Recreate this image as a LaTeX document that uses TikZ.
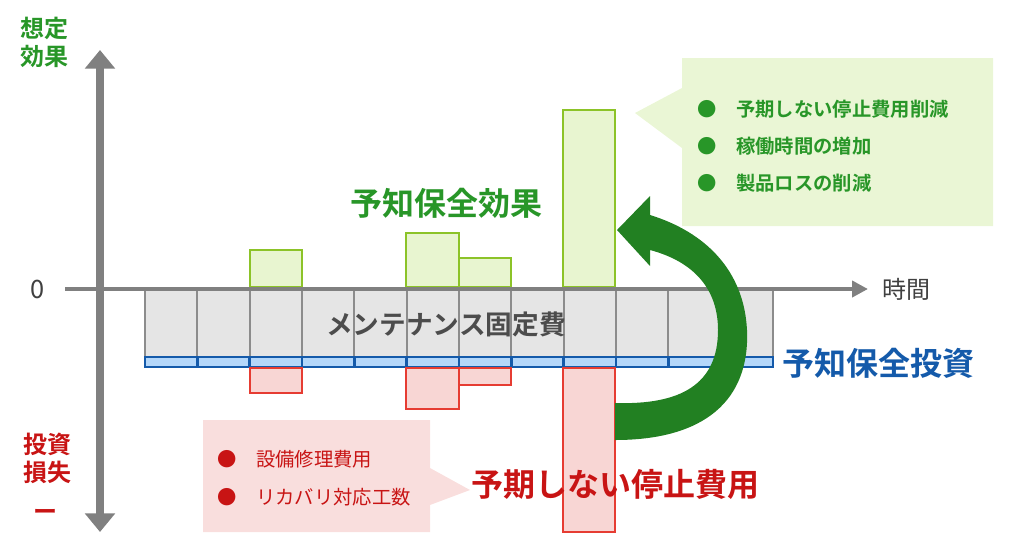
\documentclass[tikz,border=0pt]{standalone}
\usepackage{fontspec}
\newfontfamily\jp{Noto Sans CJK JP}
\newfontfamily\jpb{Noto Sans CJK JP Bold}
\usetikzlibrary{arrows.meta}
\definecolor{effgreen}{RGB}{40,150,40}
\definecolor{barline}{RGB}{140,195,40}
\definecolor{barfill}{RGB}{232,245,208}
\definecolor{lossred}{RGB}{200,20,20}
\definecolor{redline}{RGB}{230,60,50}
\definecolor{redfill}{RGB}{248,214,212}
\definecolor{invblue}{RGB}{20,90,170}
\definecolor{bluefill}{RGB}{180,215,250}
\tikzset{every picture/.style={line width=0.75pt}}
\tikzset{
  gbar/.style={draw=barline,fill=barfill,line width=2.2pt},
  rbar/.style={draw=redline,fill=redfill,line width=2.2pt},
  cell/.style={draw=gray!90,fill=gray!20,line width=1.5pt},
  bcell/.style={draw=invblue,fill=bluefill,line width=2pt},
  lbl/.style={inner sep=0.75pt,font=\jpb}
}
\begin{document}
\begin{tikzpicture}[x=0.75pt,y=0.75pt,yscale=-1,xscale=1]
\useasboundingbox (0,0) rectangle (1024,558);

%Callouts
\fill [barfill!90!white] (682,58) -- (993,58) -- (993,226) -- (682,226) -- (682,148) -- (635,113) -- (682,88) -- cycle ;
\fill [redfill!80!white] (203,420) -- (430,420) -- (430,468) -- (470,490) -- (430,505) -- (430,532) -- (203,532) -- cycle ;

%Fixed cost and investment cells
\foreach \i in {0,...,11} {
  \draw [cell] ({145+\i*52.33},289) rectangle ({145+(\i+1)*52.33},357) ;
  \draw [bcell] ({145+\i*52.33},357) rectangle ({145+(\i+1)*52.33},367) ;
}

%Effect bars
\draw [gbar] (250,287) rectangle (302,250) ;
\draw [gbar] (406,287) rectangle (459,233) ;
\draw [gbar] (459,287) rectangle (511,258) ;
\draw [gbar] (563,287) rectangle (615,110) ;
%Loss bars
\draw [rbar] (250,368) rectangle (302,393) ;
\draw [rbar] (406,368) rectangle (459,409) ;
\draw [rbar] (459,368) rectangle (511,385) ;
\draw [rbar] (563,368) rectangle (615,532) ;

%Axes
\coordinate (yTop) at (100,50) ;
\coordinate (yBot) at (100,532) ;
\coordinate (xL) at (65,289) ;
\coordinate (xR) at (868,289) ;
\draw [gray,line width=6pt,{Triangle[length=14pt,width=22pt]}-{Triangle[length=14pt,width=22pt]}] (yBot) -- (yTop) ;
\draw [gray,line width=3pt,-{Triangle[length=12pt,width=12pt]}] (xL) -- (xR) ;

%Curved arrow
\fill [effgreen!85!black] (615,440) .. controls (705,440) and (750,400) .. (747,330) .. controls (744,270) and (705,232) .. (650,215) -- (650,196) -- (617,230) -- (650,266) -- (650,250) .. controls (695,262) and (718,290) .. (718,330) .. controls (718,385) and (680,405) .. (615,403) -- cycle ;

%Texts
\node [lbl,text=effgreen,font=\jpb\fontsize{18}{21}\selectfont,align=center] (ytop) at (45,42) {想定\\効果};
\node [lbl,text=lossred,font=\jpb\fontsize{18}{21}\selectfont,align=center] (ybot) at (47,458) {投資\\損失};
\node [lbl,text=lossred,font=\jpb\fontsize{18}{21}\selectfont] (minus) at (45,515) {ー};
\node [inner sep=0.75pt,text=black!75,font=\jp\fontsize{19}{21}\selectfont] (zero) at (38,289) {0};
\node [inner sep=0.75pt,text=black!75,font=\jp\fontsize{18}{21}\selectfont] (time) at (906,289) {時間};
\node [lbl,text=black!70,font=\jpb\fontsize{20}{22}\selectfont] (fixed) at (446,324) {メンテナンス固定費};
\node [lbl,text=effgreen,font=\jpb\fontsize{24}{26}\selectfont] (eff) at (446,203) {予知保全効果};
\node [lbl,text=invblue,font=\jpb\fontsize{24}{26}\selectfont] (inv) at (878,363) {予知保全投資};
\node [lbl,text=lossred,font=\jpb\fontsize{24}{26}\selectfont] (stop) at (615,484) {予期しない停止費用};
\node [lbl,text=effgreen,font=\jpb\fontsize{14.5}{17}\selectfont,anchor=west,align=left] (glist) at (696,146) {●\quad 予期しない停止費用削減\\[11pt]●\quad 稼働時間の増加\\[11pt]●\quad 製品ロスの削減};
\node [lbl,text=lossred,font=\jp\fontsize{14.5}{17}\selectfont,anchor=west,align=left] (rlist) at (216,478) {●\quad 設備修理費用\\[11pt]●\quad リカバリ対応工数};
\end{tikzpicture}
\end{document}
